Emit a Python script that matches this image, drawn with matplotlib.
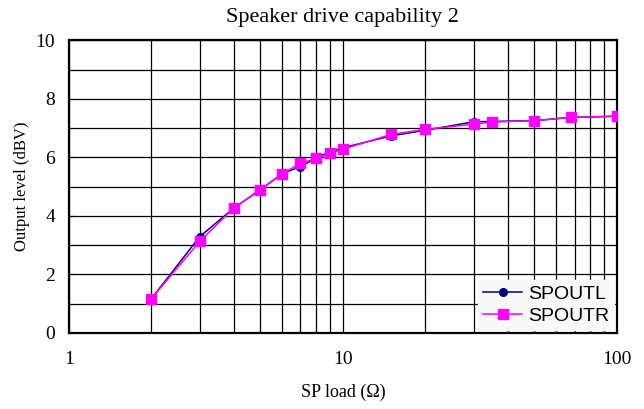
#!/usr/bin/env python3
"""Speaker drive capability plot: output level vs. speaker load."""

import matplotlib
matplotlib.use("Agg")
import matplotlib.pyplot as plt
from matplotlib.ticker import FixedLocator, NullFormatter

# SP load in ohms and measured output level in dBV
LOAD_L = [2, 3, 4, 5, 6, 7, 8, 9, 10, 15, 20, 30, 50, 68, 100]
SPOUTL = [1.17, 3.29, 4.27, 4.90, 5.44, 5.69, 5.99, 6.20, 6.33, 6.74, 6.93, 7.22, 7.26, 7.37, 7.41]

LOAD_R = [2, 3, 4, 5, 6, 7, 8, 9, 10, 15, 20, 30, 35, 50, 68, 100]
SPOUTR = [1.17, 3.13, 4.27, 4.90, 5.44, 5.80, 5.97, 6.14, 6.28, 6.79, 6.96, 7.14, 7.21, 7.26, 7.37, 7.41]

SERIF = "Liberation Serif"
SANS = "Liberation Sans"


def main() -> None:
    fig = plt.figure(figsize=(6.44, 4.09), dpi=100)
    ax = fig.add_axes([0.107, 0.186, 0.851, 0.715])

    ax.set_xscale("log")
    ax.set_xlim(1, 100)
    ax.set_ylim(0, 10)

    # grid: every decade step on x, every 1 dBV on y
    ax.xaxis.set_major_locator(FixedLocator([1, 10, 100]))
    ax.xaxis.set_minor_locator(FixedLocator([m * d for d in (1, 10) for m in range(2, 10)]))
    ax.xaxis.set_minor_formatter(NullFormatter())
    ax.set_xticklabels(["1", "10", "100"])
    ax.yaxis.set_major_locator(FixedLocator([0, 2, 4, 6, 8, 10]))
    ax.yaxis.set_minor_locator(FixedLocator([1, 3, 5, 7, 9]))
    ax.grid(True, which="both", color="black", linewidth=0.9)
    ax.set_axisbelow(True)

    ax.tick_params(axis="x", which="both", length=0, pad=13)
    ax.tick_params(axis="y", which="major", length=4, direction="in", pad=10)
    ax.tick_params(axis="y", which="minor", length=0)
    for lab in ax.get_xticklabels() + ax.get_yticklabels():
        lab.set_fontfamily(SERIF)
        lab.set_fontsize(14)

    for s in ax.spines.values():
        s.set_linewidth(1.6)

    ax.plot(LOAD_L, SPOUTL, color="#000080", marker="o", markersize=5.5,
            linewidth=1.1, label="SPOUTL", zorder=3)
    ax.plot(LOAD_R, SPOUTR, color="#ff00ff", marker="s", markersize=6.5,
            linewidth=1.1, label="SPOUTR", zorder=4)

    leg = ax.legend(loc="lower right", prop={"family": SANS, "size": 14},
                    frameon=True, fancybox=False, borderaxespad=0.15,
                    handlelength=2.0, handletextpad=0.3, borderpad=0.25,
                    labelspacing=0.25)
    leg.get_frame().set_facecolor("#f8f8f8")
    leg.get_frame().set_edgecolor("#f8f8f8")
    leg.get_frame().set_alpha(1.0)

    ax.set_title("Speaker drive capability 2", fontfamily=SERIF, fontsize=16, pad=13)
    ax.set_xlabel("SP load (\u03a9)", fontfamily=SERIF, fontsize=13, labelpad=11)
    ax.set_ylabel("Output level (dBV)", fontfamily=SERIF, fontsize=12, labelpad=4)

    fig.savefig("out.png", dpi=100, facecolor="white")
    plt.close(fig)


if __name__ == "__main__":
    main()
